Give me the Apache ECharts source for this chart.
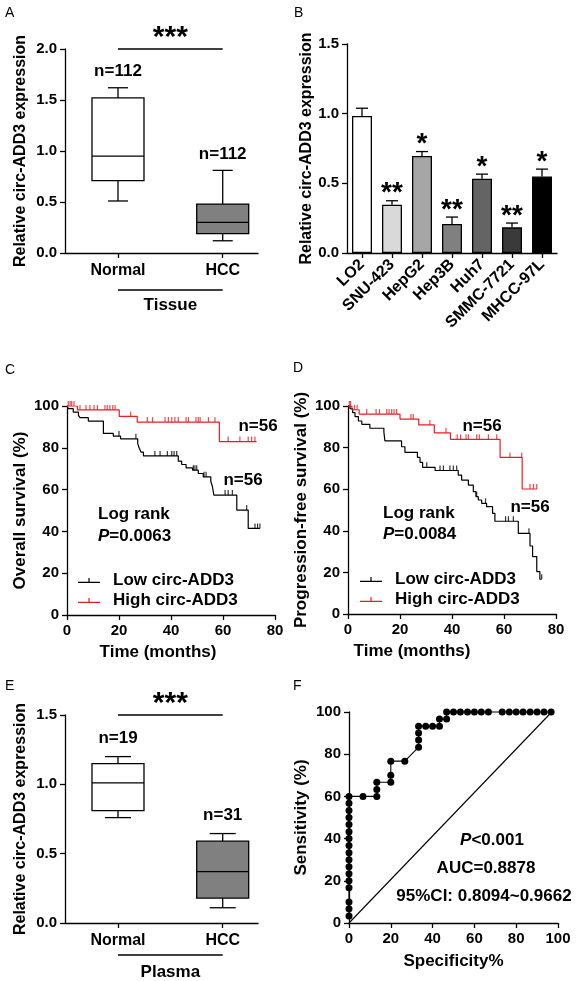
<!DOCTYPE html>
<html><head><meta charset="utf-8">
<script src="https://cdn.jsdelivr.net/npm/echarts@6/dist/echarts.min.js"></script>
<style>html,body{margin:0;padding:0;background:#fff}#c{width:582px;height:981px}</style>
</head><body><div id="c"></div>
<script>
// ---------- Panel A: tissue box plot ----------
const tissueGroups = ['Normal', 'HCC'];
const tissueNormal = [0.51, 0.71, 0.95, 1.52, 1.62]; // min, Q1, median, Q3, max
const tissueHCC = [0.12, 0.19, 0.30, 0.48, 0.81];
const tissueN = ['n=112', 'n=112'];
const tissueSig = [1, 2, 2.0];
// ---------- Panel B: cell lines ----------
const cellLines = ['LO2', 'SNU-423', 'HepG2', 'Hep3B', 'Huh7', 'SMMC-7721', 'MHCC-97L'];
const cellMeans = [0.984, 0.346, 0.697, 0.208, 0.533, 0.184, 0.549];
const cellSEM = [0.055, 0.029, 0.031, 0.050, 0.033, 0.031, 0.053];
const cellStars = ['', '**', '*', '**', '*', '**', '*'];
// ---------- Panel C: overall survival ----------
const osHighSteps = [[0,100],[4,98.1],[20.1,95],[27,92.3],[58.6,83],[72.9,83]];
const osHighCensor = [[0.5,100],[1.2,100],[1.8,100],[2.7,100],[5,98.1],[7.3,98.1],[8.8,98.1],[10.4,98.1],[11.7,98.1],[14.6,98.1],[15.5,98.1],[16.5,98.1],[17.6,98.1],[18.5,98.1],[24.5,95],[30.9,92.3],[32.9,92.3],[37.7,92.3],[39,92.3],[40.3,92.3],[41.5,92.3],[42.8,92.3],[45.8,92.3],[46.7,92.3],[49.6,92.3],[50.5,92.3],[51.2,92.3],[54.4,92.3],[56.9,92.3],[62,83],[66.5,83],[69.7,83],[71,83],[72.3,83]];
const osLowSteps = [[0,100],[0.5,98.7],[2.4,97.1],[4.4,95.5],[5,94.4],[8.2,92.8],[14,86.9],[17.8,85.6],[20.6,84.3],[27.2,82],[27.8,79.8],[28.5,77.9],[29.4,76.1],[42.8,73.6],[44.1,72],[45.8,70.4],[48.3,69.3],[50.5,67.7],[52.4,66.1],[55.3,64],[55.9,61.6],[56.5,57.4],[65.3,50.2],[69.7,41.4],[74.2,41.4]];
const osLowCensor = [[20,85.6],[26.5,84.3],[33.8,76.1],[35.8,76.1],[38.6,76.1],[40.3,76.1],[41.2,76.1],[42.2,76.1],[48.6,69.3],[49.2,69.3],[49.9,69.3],[52.7,66.1],[53.5,66.1],[60.8,57.4],[62,57.4],[63.6,57.4],[69.1,50.2],[72.3,41.4],[73.3,41.4],[74.2,41.4]];
// ---------- Panel D: progression-free survival ----------
const pfsHighSteps = [[0,100],[1.5,98.2],[4.3,96.1],[20,93.7],[27.2,90.9],[33.2,87.1],[39.4,84],[58.5,75.3],[67,60.1],[72.7,60.1]];
const pfsHighCensor = [[0.5,100],[1,100],[2.5,98.2],[3.5,98.2],[7.2,96.1],[10.8,96.1],[12.1,96.1],[14.9,96.1],[15.8,96.1],[16.8,96.1],[17.7,96.1],[18.7,96.1],[24.2,93.7],[25.1,93.7],[31.5,90.9],[37.7,87.1],[42,84],[43.3,84],[45.4,84],[46.3,84],[49.5,84],[50.5,84],[54,84],[57.2,84],[62.3,75.3],[66.8,75.3],[70,60.1],[71.3,60.1],[72.6,60.1]];
const pfsLowSteps = [[0,100],[0.8,98.7],[1.8,96.8],[2.7,94.9],[4,92.8],[5.3,91.2],[8.4,89.3],[13.8,87.5],[14.2,83.2],[20.6,80.4],[21.9,77.7],[26.7,75.3],[27.7,72.9],[28.7,70.5],[33.5,69],[42.4,66.8],[43.7,64.4],[46.3,62],[48.2,58.8],[49.2,56.4],[50.1,54.8],[51.4,53.2],[53.3,51.6],[55.6,48.4],[56.5,44.6],[65.5,38.8],[70,32.7],[71,27.6],[72.6,20.4],[73.8,16.7],[74.5,16.7]];
const pfsLowCensor = [[30.3,70.5],[35.4,69],[36.7,69],[39.2,69],[40.5,69],[41.8,69],[49.5,56.4],[52.9,53.2],[60.6,44.6],[61.7,44.6],[63.6,44.6],[69.6,38.8],[74.5,16.7]];
// ---------- Panel E: plasma box plot ----------
const plasmaGroups = ['Normal', 'HCC'];
const plasmaNormal = [0.76, 0.81, 1.01, 1.15, 1.20];
const plasmaHCC = [0.11, 0.18, 0.37, 0.59, 0.645];
const plasmaN = ['n=19', 'n=31'];
const plasmaSig = [1, 2, 1.5];
// ---------- Panel F: ROC ----------
const rocSpecificity = [0,0,0,0,0,0,0,0,0,0,0,0,0,0,0,0,0,6.7,13.3,13.3,13.3,20,20,20,26.7,33.3,33.3,33.3,33.3,36.7,40,43.3,43.3,46.7,46.7,50,53.3,56.7,60,63.3,66.7,73.3,76.7,80,83.3,86.7,90,93.3,96.7];
const rocSensitivity = [3.3,6.7,10,16.7,20,23.3,26.7,30,33.3,36.7,40,43.3,46.7,50,53.3,56.7,60,60,60,63.3,66.7,66.7,70,76.7,76.7,83.3,86.7,90,93.3,93.3,93.3,93.3,96.7,96.7,100,100,100,100,100,100,100,100,100,100,100,100,100,100,100];
const refLine = [[0,0],[97,100]];

const FONT = '"Liberation Sans", Arial, Helvetica, sans-serif';
const RED = '#ec1c24';
const chart = echarts.init(document.getElementById('c'), null, {renderer:'canvas'});

function axisBase(extra) {
  return Object.assign({
    axisLine: {show: true, onZero: false, lineStyle: {color: '#000', width: 1.3}},
    axisTick: {show: true, length: 5, lineStyle: {color: '#000', width: 1.3}},
    axisLabel: {color: '#000', fontSize: 15, fontWeight: 'bold', fontFamily: FONT, margin: 8},
    splitLine: {show: false},
    nameLocation: 'middle',
    nameTextStyle: {color: '#000', fontSize: 16, fontWeight: 'bold', fontFamily: FONT}
  }, extra);
}
function groupXAxis(gi, groups) {
  const a = axisBase({type: 'value', gridIndex: gi, min: 0.494, max: 2.337});
  a.axisTick = Object.assign({}, a.axisTick, {customValues: [1, 2]});
  a.axisLabel = Object.assign({}, a.axisLabel, {customValues: [1, 2], fontSize: 16, margin: 10,
    formatter: v => groups[Math.round(v) - 1] || ''});
  return a;
}
function numYAxis(gi, max, interval, name, gap, dec, fs) {
  const a = axisBase({type: 'value', gridIndex: gi, min: 0, max: max, interval: interval, name: name, nameGap: gap});
  a.axisLabel = Object.assign({}, a.axisLabel, {formatter: v => dec ? v.toFixed(1) : String(v)});
  a.nameTextStyle = Object.assign({}, a.nameTextStyle, {fontSize: fs || 16});
  return a;
}
function txt(text, x, y, size, align, extra) {
  return {type: 'text', style: Object.assign({text: text, x: x, y: y, fill: '#000',
    font: 'bold ' + size + 'px ' + FONT, align: align || 'center', verticalAlign: 'middle',
    textAlign: align || 'center', textVerticalAlign: 'middle'}, extra || {})};
}
function makeBoxRender(fills, labels, boxW, capW, labelGap) {
  return function (params, api) {
    const x = api.value(0);
    const c = v => api.coord([x, v]);
    const pMin = c(api.value(1)), cx = pMin[0];
    const yMin = pMin[1], yQ1 = c(api.value(2))[1], yMed = c(api.value(3))[1],
      yQ3 = c(api.value(4))[1], yMax = c(api.value(5))[1];
    const st = {stroke: '#000', lineWidth: 1.3};
    return {type: 'group', children: [
      {type: 'line', shape: {x1: cx, y1: yMax, x2: cx, y2: yQ3}, style: st},
      {type: 'line', shape: {x1: cx, y1: yQ1, x2: cx, y2: yMin}, style: st},
      {type: 'line', shape: {x1: cx - capW / 2, y1: yMax, x2: cx + capW / 2, y2: yMax}, style: st},
      {type: 'line', shape: {x1: cx - capW / 2, y1: yMin, x2: cx + capW / 2, y2: yMin}, style: st},
      {type: 'rect', shape: {x: cx - boxW / 2, y: yQ3, width: boxW, height: yQ1 - yQ3},
        style: {fill: fills[params.dataIndex], stroke: '#000', lineWidth: 1.3}},
      {type: 'line', shape: {x1: cx - boxW / 2, y1: yMed, x2: cx + boxW / 2, y2: yMed}, style: st},
      txt(labels[params.dataIndex], cx, yMax - labelGap, 17)
    ]};
  };
}
function makeSigRender(stars, groupLabel, lineOff, textOff) {
  return function (params, api) {
    const p1 = api.coord([api.value(0), api.value(2)]);
    const p2 = api.coord([api.value(1), api.value(2)]);
    const b1 = api.coord([api.value(0), 0]);
    const b2 = api.coord([api.value(1), 0]);
    const st = {stroke: '#000', lineWidth: 1.3};
    const mid = (p1[0] + p2[0]) / 2;
    return {type: 'group', children: [
      {type: 'line', shape: {x1: p1[0], y1: p1[1], x2: p2[0], y2: p2[1]}, style: st},
      txt(stars, mid, p1[1] - 11, 30),
      {type: 'line', shape: {x1: b1[0], y1: b1[1] + lineOff, x2: b2[0], y2: b2[1] + lineOff}, style: st},
      txt(groupLabel, mid, b1[1] + textOff, 17)
    ]};
  };
}
function errRender(params, api) {
  const i = api.value(0), m = api.value(1), e = api.value(2);
  const base = api.coord([i, m]), top = api.coord([i, m + e]);
  const st = {stroke: '#000', lineWidth: 1.3};
  return {type: 'group', children: [
    {type: 'line', shape: {x1: base[0], y1: base[1], x2: top[0], y2: top[1]}, style: st},
    {type: 'line', shape: {x1: top[0] - 6, y1: top[1], x2: top[0] + 6, y2: top[1]}, style: st},
    txt(cellStars[i], top[0], top[1] - 7, 28)
  ]};
}
const barColors = ['#ffffff', '#d9d9d9', '#a6a6a6', '#808080', '#646464', '#3a3a3a', '#000000'];
const legendIcon = 'path://M0,3.8L22,3.8L22,5L0,5Z M10.4,0L11.6,0L11.6,3.8L10.4,3.8Z';

function kmLine(name, data, color, xi) {
  return {type: 'line', name: name, xAxisIndex: xi, yAxisIndex: xi, data: data, step: 'end',
    showSymbol: false, symbol: 'none', lineStyle: {color: color, width: 1.2}, itemStyle: {color: color},
    animation: false, z: 3};
}
function kmCensor(name, data, color, xi) {
  return {type: 'scatter', name: name, xAxisIndex: xi, yAxisIndex: xi, data: data, symbol: 'rect',
    symbolSize: [1.2, 5], symbolOffset: [0, -2.5], itemStyle: {color: color}, animation: false, z: 4};
}

const option = {
  animation: false,
  textStyle: {fontFamily: FONT},
  grid: [
    {left: 65, top: 49, width: 193, height: 204},
    {left: 347, top: 44, width: 210, height: 209},
    {left: 67, top: 406, width: 208, height: 209},
    {left: 348, top: 406, width: 208, height: 208},
    {left: 65, top: 715, width: 193, height: 208},
    {left: 349, top: 712, width: 209, height: 211}
  ],
  xAxis: [
    groupXAxis(0, tissueGroups),
    (function () {
      const a = axisBase({type: 'category', gridIndex: 1, data: cellLines});
      a.axisTick = Object.assign({}, a.axisTick, {alignWithLabel: true});
      a.axisLabel = Object.assign({}, a.axisLabel, {rotate: 45, interval: 0, margin: 9, fontSize: 16});
      return a;
    })(),
    axisBase({type: 'value', gridIndex: 2, min: 0, max: 80, interval: 20, name: 'Time (months)', nameGap: 29,
      nameTextStyle: {color: '#000', fontSize: 17, fontWeight: 'bold', fontFamily: FONT, padding: [0, 26, 0, 0]}}),
    axisBase({type: 'value', gridIndex: 3, min: 0, max: 80, interval: 20, name: 'Time (months)', nameGap: 29,
      nameTextStyle: {color: '#000', fontSize: 17, fontWeight: 'bold', fontFamily: FONT, padding: [0, 80, 0, 0]}}),
    groupXAxis(4, plasmaGroups),
    axisBase({type: 'value', gridIndex: 5, min: 0, max: 100, interval: 20, name: 'Specificity%', nameGap: 30,
      nameTextStyle: {color: '#000', fontSize: 17, fontWeight: 'bold', fontFamily: FONT}})
  ],
  yAxis: [
    numYAxis(0, 2, 0.5, 'Relative circ-ADD3 expression', 36, true, 16),
    numYAxis(1, 1.5, 0.5, 'Relative circ-ADD3 expression', 30, true, 16),
    numYAxis(2, 100, 20, 'Overall survival (%)', 38, false, 17),
    numYAxis(3, 100, 20, 'Progression-free survival (%)', 38, false, 17),
    numYAxis(4, 1.5, 0.5, 'Relative circ-ADD3 expression', 36, true, 16),
    numYAxis(5, 100, 20, 'Sensitivity (%)', 39, false, 17)
  ],
  legend: [
    {data: ['Low circ-ADD3', 'High circ-ADD3'], orient: 'vertical', left: 73, top: 567, itemWidth: 22, itemHeight: 5,
      itemGap: 3, icon: legendIcon, selectedMode: false,
      textStyle: {color: '#000', fontSize: 17, fontWeight: 'bold', fontFamily: FONT, padding: [0, 0, 0, 8]}},
    {data: ['Low circ-ADD3', 'High circ-ADD3'], orient: 'vertical', left: 355, top: 566, itemWidth: 22, itemHeight: 5,
      itemGap: 3, icon: legendIcon, selectedMode: false,
      textStyle: {color: '#000', fontSize: 17, fontWeight: 'bold', fontFamily: FONT, padding: [0, 0, 0, 8]}}
  ],
  series: [
    // A
    {type: 'custom', xAxisIndex: 0, yAxisIndex: 0, clip: false, encode: {x: 0, y: [1, 2, 3, 4, 5]},
      data: [[1].concat(tissueNormal), [2].concat(tissueHCC)],
      renderItem: makeBoxRender(['#ffffff', '#808080'], tissueN, 52, 20, 16)},
    {type: 'custom', xAxisIndex: 0, yAxisIndex: 0, clip: false, encode: {x: [0, 1], y: 2},
      data: [tissueSig], renderItem: makeSigRender('***', 'Tissue', 37, 52)},
    // B
    {type: 'bar', xAxisIndex: 1, yAxisIndex: 1, barWidth: 20,
      data: cellMeans.map((v, i) => ({value: v, itemStyle: {color: barColors[i], borderColor: '#000', borderWidth: 1.3}}))},
    {type: 'custom', xAxisIndex: 1, yAxisIndex: 1, clip: false, encode: {x: 0, y: 1},
      data: cellMeans.map((m, i) => [i, m, cellSEM[i]]), renderItem: errRender, z: 5},
    // C
    kmLine('Low circ-ADD3', osLowSteps, '#000', 2),
    kmLine('High circ-ADD3', osHighSteps, RED, 2),
    kmCensor('os-low-censor', osLowCensor, '#000', 2),
    kmCensor('os-high-censor', osHighCensor, RED, 2),
    // D
    kmLine('Low circ-ADD3', pfsLowSteps, '#000', 3),
    kmLine('High circ-ADD3', pfsHighSteps, RED, 3),
    kmCensor('pfs-low-censor', pfsLowCensor, '#000', 3),
    kmCensor('pfs-high-censor', pfsHighCensor, RED, 3),
    // E
    {type: 'custom', xAxisIndex: 4, yAxisIndex: 4, clip: false, encode: {x: 0, y: [1, 2, 3, 4, 5]},
      data: [[1].concat(plasmaNormal), [2].concat(plasmaHCC)],
      renderItem: makeBoxRender(['#ffffff', '#808080'], plasmaN, 52, 26, 18)},
    {type: 'custom', xAxisIndex: 4, yAxisIndex: 4, clip: false, encode: {x: [0, 1], y: 2},
      data: [plasmaSig], renderItem: makeSigRender('***', 'Plasma', 32, 49)},
    // F
    {type: 'line', name: 'ref', xAxisIndex: 5, yAxisIndex: 5, data: refLine, symbol: 'none',
      lineStyle: {color: '#000', width: 1.1}, clip: false},
    {type: 'line', name: 'roc', xAxisIndex: 5, yAxisIndex: 5,
      data: rocSpecificity.map((s, i) => [s, rocSensitivity[i]]),
      symbol: 'circle', symbolSize: 7, showAllSymbol: true, itemStyle: {color: '#000'},
      lineStyle: {color: '#000', width: 1.1}, clip: false, z: 4}
  ],
  graphic: [
    txt('A', 5, 13, 14, 'left', {font: '14px ' + FONT}),
    txt('B', 294, 13, 14, 'left', {font: '14px ' + FONT}),
    txt('C', 5, 370, 14, 'left', {font: '14px ' + FONT}),
    txt('D', 293, 368, 14, 'left', {font: '14px ' + FONT}),
    txt('E', 5, 686, 14, 'left', {font: '14px ' + FONT}),
    txt('F', 293, 686, 14, 'left', {font: '14px ' + FONT}),
    txt('n=56', 258, 426, 17),
    txt('n=56', 243, 480, 17),
    txt('Log rank', 98, 514, 17, 'left'),
    {type: 'text', style: {text: '{i|P}=0.0063', x: 98, y: 536, fill: '#000', font: 'bold 17px ' + FONT,
      align: 'left', verticalAlign: 'middle', textAlign: 'left', textVerticalAlign: 'middle',
      rich: {i: {fontStyle: 'italic', fontWeight: 'bold', fontSize: 17, fontFamily: FONT}}}},
    txt('n=56', 482, 426, 17),
    txt('n=56', 530, 507, 17),
    txt('Log rank', 383, 513, 17, 'left'),
    {type: 'text', style: {text: '{i|P}=0.0084', x: 383, y: 534, fill: '#000', font: 'bold 17px ' + FONT,
      align: 'left', verticalAlign: 'middle', textAlign: 'left', textVerticalAlign: 'middle',
      rich: {i: {fontStyle: 'italic', fontWeight: 'bold', fontSize: 17, fontFamily: FONT}}}},
    {type: 'text', style: {text: '{i|P}<0.001', x: 492, y: 840, fill: '#000', font: 'bold 17px ' + FONT,
      align: 'center', verticalAlign: 'middle', textAlign: 'center', textVerticalAlign: 'middle',
      rich: {i: {fontStyle: 'italic', fontWeight: 'bold', fontSize: 17, fontFamily: FONT}}}},
    txt('AUC=0.8878', 486, 868, 17),
    txt('95%CI: 0.8094~0.9662', 484, 896, 17)
  ]
};
chart.setOption(option);
</script>
</body></html>
